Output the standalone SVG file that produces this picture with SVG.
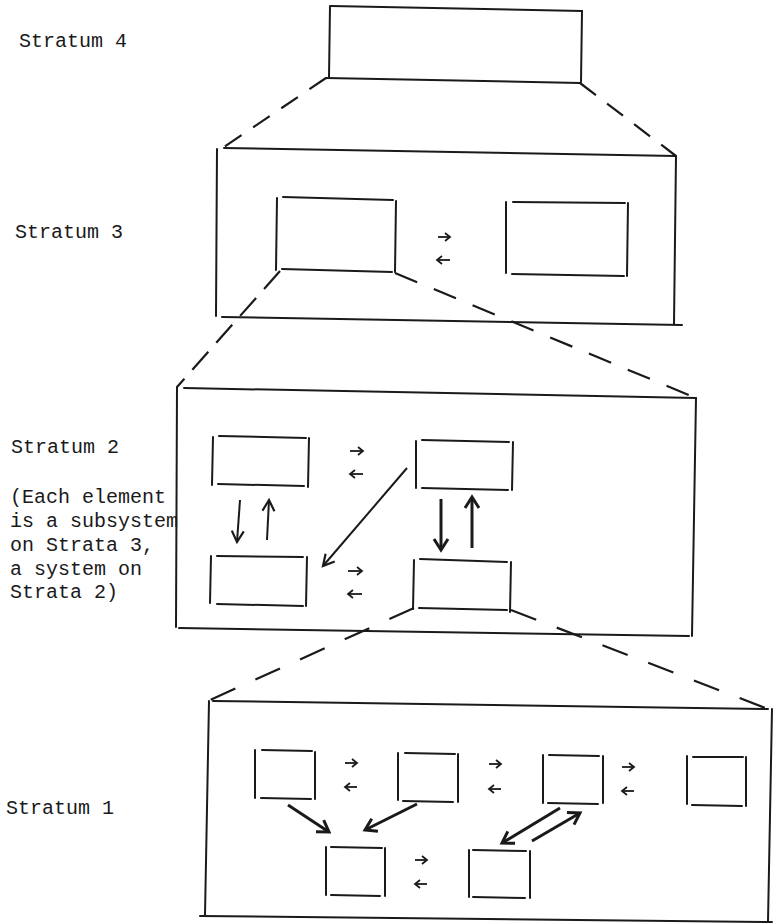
<svg xmlns="http://www.w3.org/2000/svg" width="773" height="924" viewBox="0 0 773 924">
<defs>
<style>
.bx line{stroke:#1a1a1a;stroke-width:2;stroke-linecap:round}
.dash{stroke:#1a1a1a;stroke-width:2.2;fill:none}
.sm{stroke:#1a1a1a;stroke-width:1.8;marker-end:url(#hs)}
.th{stroke:#1a1a1a;stroke-width:2;marker-end:url(#hm)}
.bd{stroke:#1a1a1a;stroke-width:3;marker-end:url(#hb)}
.lbl{font-family:"Liberation Mono","Courier New",monospace;font-size:20px;fill:#1a1a1a}
</style>
<marker id="hs" markerUnits="userSpaceOnUse" viewBox="-8 -8 16 16" markerWidth="16" markerHeight="16" refX="0" refY="0" orient="auto">
<path d="M-5,-4 L0,0 L-5,4" fill="none" stroke="#1a1a1a" stroke-width="1.8"/>
</marker>
<marker id="hm" markerUnits="userSpaceOnUse" viewBox="-16 -16 32 32" markerWidth="32" markerHeight="32" refX="0" refY="0" orient="auto">
<path d="M-11,-6 L0,0 L-11,6" fill="none" stroke="#1a1a1a" stroke-width="2.2"/>
</marker>
<marker id="hb" markerUnits="userSpaceOnUse" viewBox="-16 -16 32 32" markerWidth="32" markerHeight="32" refX="0" refY="0" orient="auto">
<path d="M-11,-7 L0,0 L-11,7" fill="none" stroke="#1a1a1a" stroke-width="3"/>
</marker>
</defs>
<rect width="773" height="924" fill="#ffffff"/>

<g id="labels">
<text class="lbl" x="19" y="47">Stratum 4</text>
<text class="lbl" x="15" y="238">Stratum 3</text>
<text class="lbl" x="11" y="453">Stratum 2</text>
<text class="lbl" x="10" y="503">(Each element</text>
<text class="lbl" x="10" y="527">is a subsystem</text>
<text class="lbl" x="10" y="551">on Strata 3,</text>
<text class="lbl" x="10" y="575">a system on</text>
<text class="lbl" x="10" y="598">Strata 2)</text>
<text class="lbl" x="6" y="814">Stratum 1</text>
</g>

<g id="stratum4" class="bx">
<line x1="331" y1="6" x2="582" y2="11"/>
<line x1="330" y1="6" x2="329" y2="77"/>
<line x1="582" y1="11" x2="581" y2="82"/>
<line x1="326" y1="78" x2="580" y2="83"/>
</g>

<g id="stratum3" class="bx">
<line x1="224" y1="148" x2="676" y2="156"/>
<line x1="217" y1="149" x2="216" y2="316"/>
<line x1="676" y1="156" x2="674" y2="324"/>
<line x1="222" y1="317" x2="682" y2="325"/>
</g>
<g id="s3-a" class="bx">
<line x1="283" y1="197" x2="393" y2="200"/>
<line x1="277" y1="198" x2="276" y2="270"/>
<line x1="396" y1="201" x2="395" y2="272"/>
<line x1="282" y1="269" x2="392" y2="272"/>
</g>
<g id="s3-b" class="bx">
<line x1="513" y1="202" x2="625" y2="203"/>
<line x1="506" y1="202" x2="506" y2="273"/>
<line x1="628" y1="203" x2="627" y2="276"/>
<line x1="512" y1="274" x2="624" y2="276"/>
</g>

<g id="stratum2" class="bx">
<line x1="184" y1="388" x2="696" y2="398"/>
<line x1="177" y1="387" x2="176" y2="627"/>
<line x1="696" y1="398" x2="692" y2="636"/>
<line x1="179" y1="628" x2="689" y2="636"/>
</g>
<g id="s2-tl" class="bx">
<line x1="219" y1="436" x2="306" y2="438"/>
<line x1="213" y1="437" x2="212" y2="485"/>
<line x1="309" y1="438" x2="308" y2="487"/>
<line x1="218" y1="484" x2="304" y2="486"/>
</g>
<g id="s2-tr" class="bx">
<line x1="422" y1="440" x2="509" y2="442"/>
<line x1="416" y1="441" x2="416" y2="488"/>
<line x1="513" y1="442" x2="512" y2="490"/>
<line x1="422" y1="488" x2="508" y2="490"/>
</g>
<g id="s2-bl" class="bx">
<line x1="217" y1="556" x2="303" y2="557"/>
<line x1="211" y1="556" x2="210" y2="603"/>
<line x1="307" y1="557" x2="306" y2="606"/>
<line x1="217" y1="604" x2="303" y2="606"/>
</g>
<g id="s2-br" class="bx">
<line x1="420" y1="559" x2="507" y2="562"/>
<line x1="414" y1="560" x2="413" y2="609"/>
<line x1="511" y1="562" x2="510" y2="612"/>
<line x1="419" y1="608" x2="507" y2="610"/>
</g>

<g id="stratum1" class="bx">
<line x1="213" y1="701" x2="768" y2="709"/>
<line x1="209" y1="701" x2="205" y2="915"/>
<line x1="772" y1="709" x2="768" y2="922"/>
<line x1="200" y1="916" x2="772" y2="922"/>
</g>
<g id="s1-1" class="bx">
<line x1="262" y1="750" x2="312" y2="751"/>
<line x1="255" y1="750" x2="255" y2="798"/>
<line x1="315" y1="752" x2="315" y2="799"/>
<line x1="261" y1="798" x2="311" y2="799"/>
</g>
<g id="s1-2" class="bx">
<line x1="405" y1="753" x2="455" y2="754"/>
<line x1="398" y1="753" x2="398" y2="800"/>
<line x1="458" y1="754" x2="458" y2="802"/>
<line x1="403" y1="801" x2="453" y2="802"/>
</g>
<g id="s1-3" class="bx">
<line x1="549" y1="755" x2="599" y2="756"/>
<line x1="543" y1="755" x2="543" y2="803"/>
<line x1="603" y1="756" x2="603" y2="803"/>
<line x1="548" y1="803" x2="598" y2="804"/>
</g>
<g id="s1-4" class="bx">
<line x1="693" y1="757" x2="743" y2="757"/>
<line x1="687" y1="756" x2="687" y2="804"/>
<line x1="746" y1="757" x2="746" y2="806"/>
<line x1="692" y1="805" x2="742" y2="806"/>
</g>
<g id="s1-5" class="bx">
<line x1="331" y1="847" x2="382" y2="848"/>
<line x1="326" y1="847" x2="326" y2="895"/>
<line x1="385" y1="848" x2="385" y2="896"/>
<line x1="331" y1="895" x2="380" y2="896"/>
</g>
<g id="s1-6" class="bx">
<line x1="473" y1="850" x2="526" y2="851"/>
<line x1="469" y1="850" x2="469" y2="897"/>
<line x1="530" y1="851" x2="530" y2="898"/>
<line x1="473" y1="897" x2="525" y2="898"/>
</g>

<g id="connectors">
<line class="dash" x1="326" y1="78" x2="224" y2="147" stroke-dasharray="20 14"/>
<line class="dash" x1="580" y1="83" x2="676" y2="156" stroke-dasharray="20 14"/>
<line class="dash" x1="280" y1="271" x2="177" y2="387" stroke-dasharray="24 12"/>
<line class="dash" x1="395" y1="273" x2="696" y2="398" stroke-dasharray="24 18"/>
<line class="dash" x1="414" y1="608" x2="210" y2="700" stroke-dasharray="27 22"/>
<line class="dash" x1="511" y1="610" x2="768" y2="709" stroke-dasharray="27 22"/>

<line class="sm" x1="438" y1="237" x2="450" y2="237"/>
<line class="sm" x1="450" y1="260" x2="437" y2="260"/>

<line class="sm" x1="350" y1="451" x2="363" y2="451"/>
<line class="sm" x1="363" y1="474" x2="350" y2="474"/>
<line class="sm" x1="348" y1="571" x2="362" y2="571"/>
<line class="sm" x1="362" y1="594" x2="348" y2="594"/>

<line class="th" x1="240" y1="500" x2="237" y2="542"/>
<line class="th" x1="267" y1="540" x2="269" y2="500"/>
<line class="bd" x1="441" y1="499" x2="441" y2="550"/>
<line class="bd" x1="472" y1="548" x2="472" y2="497"/>
<line class="th" x1="407" y1="468" x2="323" y2="566"/>

<line class="sm" x1="345" y1="763" x2="357" y2="763"/>
<line class="sm" x1="357" y1="787" x2="345" y2="787"/>
<line class="sm" x1="489" y1="764" x2="501" y2="764"/>
<line class="sm" x1="501" y1="789" x2="489" y2="789"/>
<line class="sm" x1="622" y1="767" x2="634" y2="767"/>
<line class="sm" x1="634" y1="791" x2="622" y2="791"/>
<line class="sm" x1="415" y1="860" x2="427" y2="860"/>
<line class="sm" x1="427" y1="884" x2="415" y2="884"/>

<line class="bd" x1="288" y1="805" x2="329" y2="832"/>
<line class="bd" x1="417" y1="804" x2="365" y2="830"/>
<line class="bd" x1="560" y1="808" x2="502" y2="843"/>
<line class="bd" x1="532" y1="841" x2="580" y2="813"/>
</g>
</svg>
